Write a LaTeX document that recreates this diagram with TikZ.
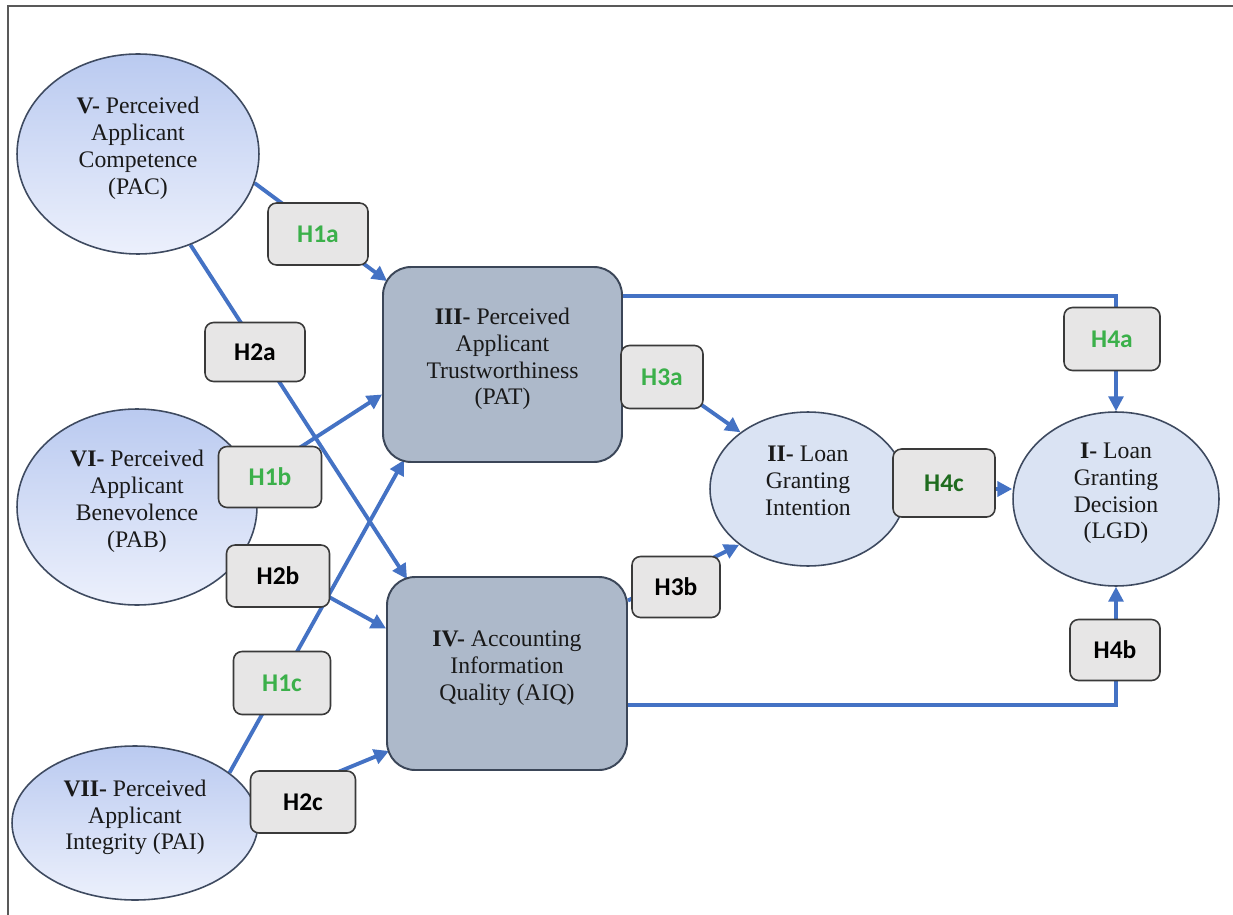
\documentclass[tikz,border=0pt]{standalone}
\usepackage{fontspec}
\setmainfont{Liberation Serif}
\newfontfamily\lblfont{Carlito}
\usetikzlibrary{shapes.geometric,arrows.meta,calc,backgrounds}
\definecolor{linkblue}{HTML}{4472C4}
\definecolor{boxfill}{HTML}{ADB9CA}
\definecolor{boxdraw}{HTML}{3B4658}
\definecolor{elldraw}{HTML}{3E4A60}
\definecolor{ellfill}{HTML}{DAE3F3}
\definecolor{lblfill}{HTML}{E7E6E6}
\definecolor{lbldraw}{HTML}{3A3A3A}
\definecolor{hgreen}{HTML}{3BB04A}
\definecolor{hdgreen}{HTML}{1E6B1E}
\tikzset{
  nodetext/.style={font=\fontsize{13.5}{15.3}\selectfont, align=center, text=black!90},
  latent/.style={ellipse, draw=elldraw, line width=0.9pt, inner sep=0pt, nodetext,
    top color={rgb,255:red,186;green,202;blue,240}, bottom color={rgb,255:red,236;green,240;blue,252}},
  flatell/.style={ellipse, draw=elldraw, line width=0.9pt, inner sep=0pt, nodetext, fill=ellfill},
  construct/.style={rectangle, rounded corners=0.56cm, draw=boxdraw, line width=1.1pt, fill=boxfill, inner sep=0pt, nodetext},
  hyp/.style={rectangle, rounded corners=0.17cm, draw=lbldraw, line width=0.9pt, fill=lblfill, inner sep=0pt,
    font=\lblfont\bfseries\fontsize{14.5}{16}\selectfont},
  conn/.style={draw=linkblue, line width=2.2pt},
  arr/.style={conn, -{Triangle[length=8.5pt,width=8.5pt]}},
}
\begin{document}
\begin{tikzpicture}[x=0.02cm,y=-0.02cm]
\useasboundingbox (0,0) rectangle (1233,915);
\draw[black!65, line width=1.2pt] (8,915) -- (8,6) -- (1233,6);

% main constructs
\node[latent, minimum width=4.84cm, minimum height=4.0cm] (PAC) at (138,154)
  {\textbf{V-} Perceived\\Applicant\\Competence\\(PAC)\\[-6pt]};
\node[latent, minimum width=4.8cm, minimum height=3.92cm] (PAB) at (137,507)
  {\textbf{VI-} Perceived\\Applicant\\Benevolence\\(PAB)\\[-6pt]};
\node[latent, minimum width=4.92cm, minimum height=3.08cm] (PAI) at (135,823)
  {\textbf{VII-} Perceived\\Applicant\\Integrity (PAI)\\[-6pt]};
\node[construct, minimum width=4.78cm, minimum height=3.9cm] (III) at (502.5,364.5)
  {\textbf{III-} Perceived\\Applicant\\Trustworthiness\\(PAT)\\[-6pt]};
\node[construct, minimum width=4.8cm, minimum height=3.86cm] (IV) at (507,673.5)
  {\textbf{IV-} Accounting\\Information\\Quality (AIQ)\\[-6pt]};
\node[flatell, minimum width=3.92cm, minimum height=3.08cm] (II) at (808,489)
  {\textbf{II-} Loan\\Granting\\Intention\\[-6pt]};
\node[flatell, minimum width=4.12cm, minimum height=3.48cm] (I) at (1116,499)
  {\textbf{I-} Loan\\Granting\\Decision\\(LGD)\\[-6pt]};

% hypothesis labels
\node[hyp, text=hgreen, minimum width=2.0cm, minimum height=1.24cm] (H1a) at (318,234) {H1a};
\node[hyp, text=black, minimum width=2.0cm, minimum height=1.18cm] (H2a) at (255,352) {H2a};
\node[hyp, text=hgreen, minimum width=2.06cm, minimum height=1.22cm] (H1b) at (270,477) {H1b};
\node[hyp, text=black, minimum width=2.06cm, minimum height=1.24cm] (H2b) at (278,576) {H2b};
\node[hyp, text=hgreen, minimum width=1.94cm, minimum height=1.26cm] (H1c) at (282,683) {H1c};
\node[hyp, text=black, minimum width=2.1cm, minimum height=1.24cm] (H2c) at (303,802) {H2c};
\node[hyp, text=hgreen, minimum width=1.64cm, minimum height=1.26cm] (H3a) at (662,377) {H3a};
\node[hyp, text=black, minimum width=1.76cm, minimum height=1.22cm] (H3b) at (676,587) {H3b};
\node[hyp, text=hdgreen, minimum width=2.04cm, minimum height=1.36cm] (H4c) at (944,483) {H4c};
\node[hyp, text=hgreen, minimum width=1.92cm, minimum height=1.26cm] (H4a) at (1112,339) {H4a};
\node[hyp, text=black, minimum width=1.8cm, minimum height=1.22cm] (H4b) at (1115,650) {H4b};

% connectors (behind the label boxes)
\begin{scope}[on background layer]
\fill[white] (0,0) rectangle (1233,915);
\draw[arr] (PAC.-14) -- ($(III.north west)+(5,15)$);
\draw[arr] (PAC.-60) -- ($(IV.north west)+(21,3)$);
\draw[arr] (PAB.14) -- ($(III.west)+(0,30)$);
\draw[arr] (PAB.-22) -- ($(IV.west)+(0,-45)$);
\draw[arr] (PAI.28) -- ($(III.south west)+(22,-3)$);
\draw[arr] (PAI.8) -- ($(IV.south west)+(3,-20)$);
\draw[arr] ($(III.east)+(0,-15)$) -- (II.140);
\draw[arr] ($(IV.east)+(0,-73)$) -- (II.-141);
\draw[arr] (II.east) -- (II.east -| I.west);
\draw[arr, line width=1.8pt] ($(III.north east)+(0,30)$) -| (I.north);
\draw[arr, line width=1.8pt] ($(IV.south east)+(0,-66)$) -| (I.south);
\end{scope}
\end{tikzpicture}
\end{document}
